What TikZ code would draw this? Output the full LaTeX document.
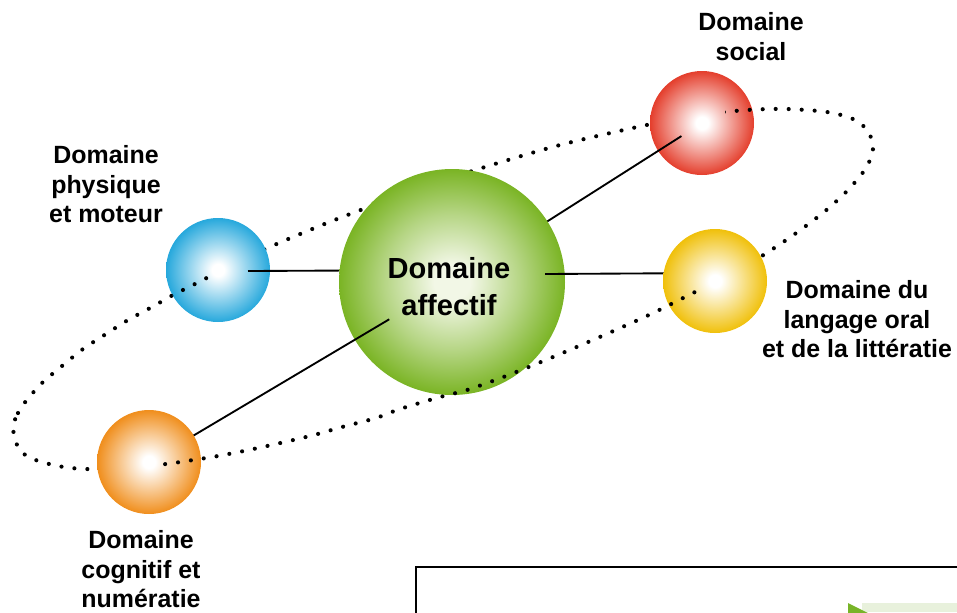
\documentclass[tikz,border=0pt]{standalone}
\usepackage{fontspec}
\setmainfont{Liberation Sans}
\usetikzlibrary{calc}
\pgfdeclarelayer{orbitL}
\pgfdeclarelayer{smallB}
\pgfdeclarelayer{linesB}
\pgfdeclarelayer{greenL}
\pgfdeclarelayer{linesF}
\pgfsetlayers{orbitL,smallB,linesB,greenL,linesF,main}
\definecolor{cB}{RGB}{38,168,220}
\definecolor{cR}{RGB}{228,62,44}
\definecolor{cY}{RGB}{240,192,10}
\definecolor{cO}{RGB}{240,142,28}
\definecolor{cGe}{RGB}{122,180,36}
\definecolor{cGc}{RGB}{242,247,230}
\colorlet{mB}{cB!50!white}
\colorlet{mR}{cR!50!white}
\colorlet{mY}{cY!50!white}
\colorlet{mO}{cO!50!white}
\colorlet{mG}{cGe!50!cGc}
\definecolor{cArrow}{RGB}{120,180,40}
\definecolor{cArrowL}{RGB}{232,241,220}
\pgfdeclareradialshading{ballB}{\pgfpoint{0bp}{0bp}}{color(0bp)=(white); color(3bp)=(white); color(14bp)=(mB); color(25bp)=(cB); color(50bp)=(cB)}
\pgfdeclareradialshading{ballR}{\pgfpoint{0bp}{0bp}}{color(0bp)=(white); color(3bp)=(white); color(14bp)=(mR); color(25bp)=(cR); color(50bp)=(cR)}
\pgfdeclareradialshading{ballY}{\pgfpoint{0bp}{0bp}}{color(0bp)=(white); color(3bp)=(white); color(14bp)=(mY); color(25bp)=(cY); color(50bp)=(cY)}
\pgfdeclareradialshading{ballO}{\pgfpoint{0bp}{0bp}}{color(0bp)=(white); color(3bp)=(white); color(14bp)=(mO); color(25bp)=(cO); color(50bp)=(cO)}
\pgfdeclareradialshading{ballG}{\pgfpoint{0bp}{0bp}}{color(0bp)=(cGc); color(4bp)=(cGc); color(15bp)=(mG); color(25bp)=(cGe); color(50bp)=(cGe)}
\def\orbitpath{plot[smooth cycle, tension=0.5] coordinates{
 (13,428) (18,413) (26,401) (42,383) (62,366) (83,349) (106,334) (128,320)
 (152,307) (173,295) (195,284) (230,266) (272,246) (322,225) (358,211)
 (420,188) (485,167) (560,145) (642,126) (700,115) (747,110) (787,109)
 (827,112) (853,119) (868,131) (873,149) (866,168) (848,190) (824,212)
 (792,236) (757,259) (720,280) (693,293) (651,314) (602,336) (553,357)
 (506,376) (467,390) (440,397) (400,409) (376,418) (342,427) (310,436)
 (258,448) (218,456) (193,460) (166,464) (125,468) (85,469) (58,466)
 (33,459) (19,449)}}
\begin{document}
\begin{tikzpicture}[x=0.75pt,y=-0.75pt,
  sphere/.style={circle, inner sep=0pt, minimum size=78pt, shade, draw=none},
  bigsphere/.style={circle, inner sep=0pt, minimum size=169.5pt, shade, draw=none},
  orbitdots/.style={line width=3.1pt, line cap=round, dash pattern=on 0pt off 9.75pt},
  link/.style={line width=1.4pt, black},
  lab/.style={font=\fontsize{18.7}{22.3}\selectfont\bfseries, align=center, inner sep=0pt, anchor=north},
  biglab/.style={font=\fontsize{21.8}{27.7}\selectfont\bfseries, align=center, inner sep=0pt, anchor=north}]
\useasboundingbox (0,0) rectangle (957,612);
\clip (0,0) rectangle (957,612);

% orbit (back)
\begin{pgfonlayer}{orbitL}
\draw[orbitdots] \orbitpath;
\end{pgfonlayer}

% small spheres behind the links
\begin{pgfonlayer}{smallB}
\node[sphere, shading=ballB] (B) at (218,270) {};
\node[sphere, shading=ballR] (R) at (702,123) {};
\begin{scope}
\clip (B.center) circle[radius=39pt];
\clip (0,0) rectangle (212,612);
\draw[orbitdots] \orbitpath;
\end{scope}
\begin{scope}
\clip (R.center) circle[radius=39pt];
\clip (725,0) rectangle (957,612);
\draw[orbitdots] \orbitpath;
\end{scope}
\end{pgfonlayer}

% green sphere
\begin{pgfonlayer}{greenL}
\node[bigsphere, shading=ballG] (G) at (452,282) {};
\begin{scope}
\clip (G.center) circle[radius=84.75pt];
\clip (0,300) rectangle (957,612);
\draw[orbitdots] \orbitpath;
\end{scope}
\end{pgfonlayer}

% links behind green
\begin{pgfonlayer}{linesB}
\draw[link] ($(B.center)+(30,1)$) -- (B.center -| G.center);
\draw[link] ($(R.center)!18.3pt!(G.center)$) -- (G.center);
\end{pgfonlayer}

% front small spheres
\node[sphere, shading=ballO] (O) at (149,462) {};
\node[sphere, shading=ballY] (Y) at (715,281) {};
\begin{scope}
\clip (O.center) circle[radius=39pt];
\clip (158,0) rectangle (957,612);
\draw[orbitdots] \orbitpath;
\end{scope}
\begin{scope}
\clip (Y.center) circle[radius=39pt];
\clip (0,0) rectangle (700,612);
\draw[orbitdots] \orbitpath;
\end{scope}

% links in front of green
\begin{pgfonlayer}{linesF}
\draw[link] ($(G.center)!54.75pt!(O.center)$) -- (O.center);
\draw[link] ($(G.center)+(93,-8)$) -- ($(Y.center)+(0,-8)$);
\end{pgfonlayer}

% labels
\node[biglab] (Gt) at (449,257) {Domaine\\affectif};
\node[lab] (LR) at (751,12) {Domaine\\social};
\node[lab] (LB) at (106,145) {Domaine\\physique\\et moteur};
\node[lab] (LY) at (857,280) {Domaine du\\langage oral\\et de la littératie};
\node[lab] (LO) at (141,530) {Domaine\\cognitif et\\numératie};

% partial box at the bottom right
\draw[line width=1.5pt] (416,567) rectangle (975,640);
\fill[cArrowL] (862,603) rectangle (957,612);
\fill[cArrow] (848,603) -- (868,613) -- (848,613) -- cycle;
\end{tikzpicture}
\end{document}
